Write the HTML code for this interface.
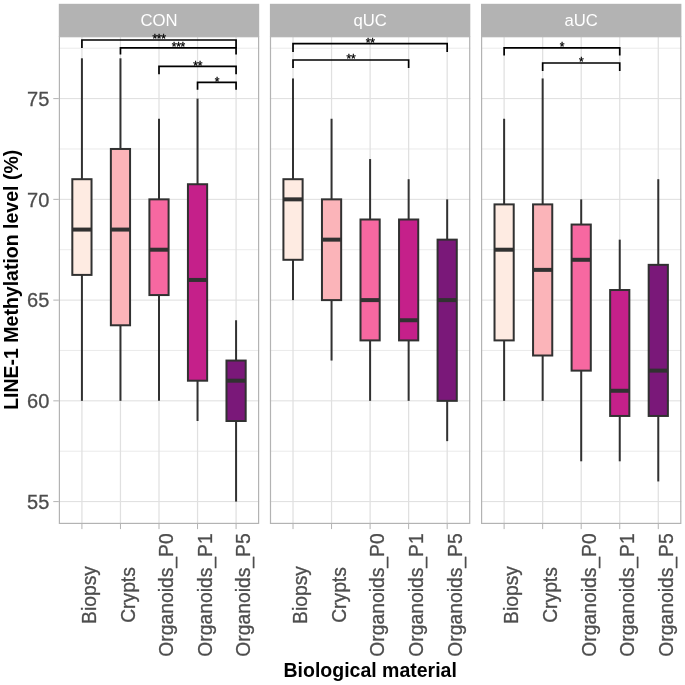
<!DOCTYPE html>
<html><head><meta charset="utf-8"><style>
html,body{margin:0;padding:0;background:#fff;}
svg{display:block;will-change:transform;filter:blur(0.35px);font-family:"Liberation Sans",sans-serif;}
</style></head><body>
<svg width="685" height="685" viewBox="0 0 685 685">
<rect width="685" height="685" fill="#fff"/>
<rect x="58.8" y="3.8" width="200.4" height="32.9" fill="#B3B3B3"/>
<text x="159" y="26.1" font-size="16.7" fill="#FFFFFF" text-anchor="middle">CON</text>
<line x1="58.8" x2="259.2" y1="451.23" y2="451.23" stroke="#E8E8E8" stroke-width="0.9"/>
<line x1="58.8" x2="259.2" y1="350.47" y2="350.47" stroke="#E8E8E8" stroke-width="0.9"/>
<line x1="58.8" x2="259.2" y1="249.72" y2="249.72" stroke="#E8E8E8" stroke-width="0.9"/>
<line x1="58.8" x2="259.2" y1="148.97" y2="148.97" stroke="#E8E8E8" stroke-width="0.9"/>
<line x1="58.8" x2="259.2" y1="48.22" y2="48.22" stroke="#E8E8E8" stroke-width="0.9"/>
<line x1="58.8" x2="259.2" y1="501.6" y2="501.6" stroke="#DEDEDE" stroke-width="1"/>
<line x1="58.8" x2="259.2" y1="400.85" y2="400.85" stroke="#DEDEDE" stroke-width="1"/>
<line x1="58.8" x2="259.2" y1="300.1" y2="300.1" stroke="#DEDEDE" stroke-width="1"/>
<line x1="58.8" x2="259.2" y1="199.35" y2="199.35" stroke="#DEDEDE" stroke-width="1"/>
<line x1="58.8" x2="259.2" y1="98.6" y2="98.6" stroke="#DEDEDE" stroke-width="1"/>
<line x1="81.92" x2="81.92" y1="36.7" y2="524" stroke="#E0E0E0" stroke-width="1.25"/>
<line x1="120.46" x2="120.46" y1="36.7" y2="524" stroke="#E0E0E0" stroke-width="1.25"/>
<line x1="159" x2="159" y1="36.7" y2="524" stroke="#E0E0E0" stroke-width="1.25"/>
<line x1="197.54" x2="197.54" y1="36.7" y2="524" stroke="#E0E0E0" stroke-width="1.25"/>
<line x1="236.08" x2="236.08" y1="36.7" y2="524" stroke="#E0E0E0" stroke-width="1.25"/>
<line x1="81.92" x2="81.92" y1="58.3" y2="179.2" stroke="#313131" stroke-width="2"/>
<line x1="81.92" x2="81.92" y1="274.91" y2="400.85" stroke="#313131" stroke-width="2"/>
<rect x="72.32" y="179.2" width="19.2" height="95.71" fill="#FEEBE2" stroke="#313131" stroke-width="2"/>
<line x1="72.32" x2="91.52" y1="229.57" y2="229.57" stroke="#313131" stroke-width="4"/>
<line x1="120.46" x2="120.46" y1="58.3" y2="148.97" stroke="#313131" stroke-width="2"/>
<line x1="120.46" x2="120.46" y1="325.29" y2="400.85" stroke="#313131" stroke-width="2"/>
<rect x="110.86" y="148.97" width="19.2" height="176.31" fill="#FBB4B9" stroke="#313131" stroke-width="2"/>
<line x1="110.86" x2="130.06" y1="229.57" y2="229.57" stroke="#313131" stroke-width="4"/>
<line x1="159" x2="159" y1="118.75" y2="199.35" stroke="#313131" stroke-width="2"/>
<line x1="159" x2="159" y1="295.06" y2="400.85" stroke="#313131" stroke-width="2"/>
<rect x="149.4" y="199.35" width="19.2" height="95.71" fill="#F768A1" stroke="#313131" stroke-width="2"/>
<line x1="149.4" x2="168.6" y1="249.72" y2="249.72" stroke="#313131" stroke-width="4"/>
<line x1="197.54" x2="197.54" y1="98.6" y2="184.24" stroke="#313131" stroke-width="2"/>
<line x1="197.54" x2="197.54" y1="380.7" y2="421" stroke="#313131" stroke-width="2"/>
<rect x="187.94" y="184.24" width="19.2" height="196.46" fill="#C5208A" stroke="#313131" stroke-width="2"/>
<line x1="187.94" x2="207.14" y1="279.95" y2="279.95" stroke="#313131" stroke-width="4"/>
<line x1="236.08" x2="236.08" y1="320.25" y2="360.55" stroke="#313131" stroke-width="2"/>
<line x1="236.08" x2="236.08" y1="421" y2="501.6" stroke="#313131" stroke-width="2"/>
<rect x="226.48" y="360.55" width="19.2" height="60.45" fill="#7A1879" stroke="#313131" stroke-width="2"/>
<line x1="226.48" x2="245.68" y1="380.7" y2="380.7" stroke="#313131" stroke-width="4"/>
<rect x="59.4" y="36.7" width="199.2" height="486.7" fill="none" stroke="#B3B3B3" stroke-width="1.2"/>
<line x1="81.92" x2="81.92" y1="524" y2="529.1" stroke="#B3B3B3" stroke-width="1"/>
<text transform="translate(96.27,595.0) rotate(-90) scale(0.965,1)" font-size="20" fill="#4D4D4D" stroke="#4D4D4D" stroke-width="0.3" text-anchor="middle">Biopsy</text>
<line x1="120.46" x2="120.46" y1="524" y2="529.1" stroke="#B3B3B3" stroke-width="1"/>
<text transform="translate(134.81,595.0) rotate(-90) scale(0.965,1)" font-size="20" fill="#4D4D4D" stroke="#4D4D4D" stroke-width="0.3" text-anchor="middle">Crypts</text>
<line x1="159" x2="159" y1="524" y2="529.1" stroke="#B3B3B3" stroke-width="1"/>
<text transform="translate(173.35,595.0) rotate(-90) scale(0.965,1)" font-size="20" fill="#4D4D4D" stroke="#4D4D4D" stroke-width="0.3" text-anchor="middle">Organoids_P0</text>
<line x1="197.54" x2="197.54" y1="524" y2="529.1" stroke="#B3B3B3" stroke-width="1"/>
<text transform="translate(211.89,595.0) rotate(-90) scale(0.965,1)" font-size="20" fill="#4D4D4D" stroke="#4D4D4D" stroke-width="0.3" text-anchor="middle">Organoids_P1</text>
<line x1="236.08" x2="236.08" y1="524" y2="529.1" stroke="#B3B3B3" stroke-width="1"/>
<text transform="translate(250.43,595.0) rotate(-90) scale(0.965,1)" font-size="20" fill="#4D4D4D" stroke="#4D4D4D" stroke-width="0.3" text-anchor="middle">Organoids_P5</text>
<rect x="269.9" y="3.8" width="200.4" height="32.9" fill="#B3B3B3"/>
<text x="370.1" y="26.1" font-size="16.7" fill="#FFFFFF" text-anchor="middle">qUC</text>
<line x1="269.9" x2="470.3" y1="451.23" y2="451.23" stroke="#E8E8E8" stroke-width="0.9"/>
<line x1="269.9" x2="470.3" y1="350.47" y2="350.47" stroke="#E8E8E8" stroke-width="0.9"/>
<line x1="269.9" x2="470.3" y1="249.72" y2="249.72" stroke="#E8E8E8" stroke-width="0.9"/>
<line x1="269.9" x2="470.3" y1="148.97" y2="148.97" stroke="#E8E8E8" stroke-width="0.9"/>
<line x1="269.9" x2="470.3" y1="48.22" y2="48.22" stroke="#E8E8E8" stroke-width="0.9"/>
<line x1="269.9" x2="470.3" y1="501.6" y2="501.6" stroke="#DEDEDE" stroke-width="1"/>
<line x1="269.9" x2="470.3" y1="400.85" y2="400.85" stroke="#DEDEDE" stroke-width="1"/>
<line x1="269.9" x2="470.3" y1="300.1" y2="300.1" stroke="#DEDEDE" stroke-width="1"/>
<line x1="269.9" x2="470.3" y1="199.35" y2="199.35" stroke="#DEDEDE" stroke-width="1"/>
<line x1="269.9" x2="470.3" y1="98.6" y2="98.6" stroke="#DEDEDE" stroke-width="1"/>
<line x1="293.02" x2="293.02" y1="36.7" y2="524" stroke="#E0E0E0" stroke-width="1.25"/>
<line x1="331.56" x2="331.56" y1="36.7" y2="524" stroke="#E0E0E0" stroke-width="1.25"/>
<line x1="370.1" x2="370.1" y1="36.7" y2="524" stroke="#E0E0E0" stroke-width="1.25"/>
<line x1="408.64" x2="408.64" y1="36.7" y2="524" stroke="#E0E0E0" stroke-width="1.25"/>
<line x1="447.18" x2="447.18" y1="36.7" y2="524" stroke="#E0E0E0" stroke-width="1.25"/>
<line x1="293.02" x2="293.02" y1="78.45" y2="179.2" stroke="#313131" stroke-width="2"/>
<line x1="293.02" x2="293.02" y1="259.8" y2="300.1" stroke="#313131" stroke-width="2"/>
<rect x="283.42" y="179.2" width="19.2" height="80.6" fill="#FEEBE2" stroke="#313131" stroke-width="2"/>
<line x1="283.42" x2="302.62" y1="199.35" y2="199.35" stroke="#313131" stroke-width="4"/>
<line x1="331.56" x2="331.56" y1="118.75" y2="199.35" stroke="#313131" stroke-width="2"/>
<line x1="331.56" x2="331.56" y1="300.1" y2="360.55" stroke="#313131" stroke-width="2"/>
<rect x="321.96" y="199.35" width="19.2" height="100.75" fill="#FBB4B9" stroke="#313131" stroke-width="2"/>
<line x1="321.96" x2="341.16" y1="239.65" y2="239.65" stroke="#313131" stroke-width="4"/>
<line x1="370.1" x2="370.1" y1="159.05" y2="219.5" stroke="#313131" stroke-width="2"/>
<line x1="370.1" x2="370.1" y1="340.4" y2="400.85" stroke="#313131" stroke-width="2"/>
<rect x="360.5" y="219.5" width="19.2" height="120.9" fill="#F768A1" stroke="#313131" stroke-width="2"/>
<line x1="360.5" x2="379.7" y1="300.1" y2="300.1" stroke="#313131" stroke-width="4"/>
<line x1="408.64" x2="408.64" y1="179.2" y2="219.5" stroke="#313131" stroke-width="2"/>
<line x1="408.64" x2="408.64" y1="340.4" y2="400.85" stroke="#313131" stroke-width="2"/>
<rect x="399.04" y="219.5" width="19.2" height="120.9" fill="#C5208A" stroke="#313131" stroke-width="2"/>
<line x1="399.04" x2="418.24" y1="320.25" y2="320.25" stroke="#313131" stroke-width="4"/>
<line x1="447.18" x2="447.18" y1="199.35" y2="239.65" stroke="#313131" stroke-width="2"/>
<line x1="447.18" x2="447.18" y1="400.85" y2="441.15" stroke="#313131" stroke-width="2"/>
<rect x="437.58" y="239.65" width="19.2" height="161.2" fill="#7A1879" stroke="#313131" stroke-width="2"/>
<line x1="437.58" x2="456.78" y1="300.1" y2="300.1" stroke="#313131" stroke-width="4"/>
<rect x="270.5" y="36.7" width="199.2" height="486.7" fill="none" stroke="#B3B3B3" stroke-width="1.2"/>
<line x1="293.02" x2="293.02" y1="524" y2="529.1" stroke="#B3B3B3" stroke-width="1"/>
<text transform="translate(307.37,595.0) rotate(-90) scale(0.965,1)" font-size="20" fill="#4D4D4D" stroke="#4D4D4D" stroke-width="0.3" text-anchor="middle">Biopsy</text>
<line x1="331.56" x2="331.56" y1="524" y2="529.1" stroke="#B3B3B3" stroke-width="1"/>
<text transform="translate(345.91,595.0) rotate(-90) scale(0.965,1)" font-size="20" fill="#4D4D4D" stroke="#4D4D4D" stroke-width="0.3" text-anchor="middle">Crypts</text>
<line x1="370.1" x2="370.1" y1="524" y2="529.1" stroke="#B3B3B3" stroke-width="1"/>
<text transform="translate(384.45,595.0) rotate(-90) scale(0.965,1)" font-size="20" fill="#4D4D4D" stroke="#4D4D4D" stroke-width="0.3" text-anchor="middle">Organoids_P0</text>
<line x1="408.64" x2="408.64" y1="524" y2="529.1" stroke="#B3B3B3" stroke-width="1"/>
<text transform="translate(422.99,595.0) rotate(-90) scale(0.965,1)" font-size="20" fill="#4D4D4D" stroke="#4D4D4D" stroke-width="0.3" text-anchor="middle">Organoids_P1</text>
<line x1="447.18" x2="447.18" y1="524" y2="529.1" stroke="#B3B3B3" stroke-width="1"/>
<text transform="translate(461.53,595.0) rotate(-90) scale(0.965,1)" font-size="20" fill="#4D4D4D" stroke="#4D4D4D" stroke-width="0.3" text-anchor="middle">Organoids_P5</text>
<rect x="481" y="3.8" width="200.4" height="32.9" fill="#B3B3B3"/>
<text x="581.2" y="26.1" font-size="16.7" fill="#FFFFFF" text-anchor="middle">aUC</text>
<line x1="481" x2="681.4" y1="451.23" y2="451.23" stroke="#E8E8E8" stroke-width="0.9"/>
<line x1="481" x2="681.4" y1="350.47" y2="350.47" stroke="#E8E8E8" stroke-width="0.9"/>
<line x1="481" x2="681.4" y1="249.72" y2="249.72" stroke="#E8E8E8" stroke-width="0.9"/>
<line x1="481" x2="681.4" y1="148.97" y2="148.97" stroke="#E8E8E8" stroke-width="0.9"/>
<line x1="481" x2="681.4" y1="48.22" y2="48.22" stroke="#E8E8E8" stroke-width="0.9"/>
<line x1="481" x2="681.4" y1="501.6" y2="501.6" stroke="#DEDEDE" stroke-width="1"/>
<line x1="481" x2="681.4" y1="400.85" y2="400.85" stroke="#DEDEDE" stroke-width="1"/>
<line x1="481" x2="681.4" y1="300.1" y2="300.1" stroke="#DEDEDE" stroke-width="1"/>
<line x1="481" x2="681.4" y1="199.35" y2="199.35" stroke="#DEDEDE" stroke-width="1"/>
<line x1="481" x2="681.4" y1="98.6" y2="98.6" stroke="#DEDEDE" stroke-width="1"/>
<line x1="504.12" x2="504.12" y1="36.7" y2="524" stroke="#E0E0E0" stroke-width="1.25"/>
<line x1="542.66" x2="542.66" y1="36.7" y2="524" stroke="#E0E0E0" stroke-width="1.25"/>
<line x1="581.2" x2="581.2" y1="36.7" y2="524" stroke="#E0E0E0" stroke-width="1.25"/>
<line x1="619.74" x2="619.74" y1="36.7" y2="524" stroke="#E0E0E0" stroke-width="1.25"/>
<line x1="658.28" x2="658.28" y1="36.7" y2="524" stroke="#E0E0E0" stroke-width="1.25"/>
<line x1="504.12" x2="504.12" y1="118.75" y2="204.39" stroke="#313131" stroke-width="2"/>
<line x1="504.12" x2="504.12" y1="340.4" y2="400.85" stroke="#313131" stroke-width="2"/>
<rect x="494.52" y="204.39" width="19.2" height="136.01" fill="#FEEBE2" stroke="#313131" stroke-width="2"/>
<line x1="494.52" x2="513.72" y1="249.72" y2="249.72" stroke="#313131" stroke-width="4"/>
<line x1="542.66" x2="542.66" y1="78.45" y2="204.39" stroke="#313131" stroke-width="2"/>
<line x1="542.66" x2="542.66" y1="355.51" y2="400.85" stroke="#313131" stroke-width="2"/>
<rect x="533.06" y="204.39" width="19.2" height="151.12" fill="#FBB4B9" stroke="#313131" stroke-width="2"/>
<line x1="533.06" x2="552.26" y1="269.88" y2="269.88" stroke="#313131" stroke-width="4"/>
<line x1="581.2" x2="581.2" y1="199.35" y2="224.54" stroke="#313131" stroke-width="2"/>
<line x1="581.2" x2="581.2" y1="370.62" y2="461.3" stroke="#313131" stroke-width="2"/>
<rect x="571.6" y="224.54" width="19.2" height="146.09" fill="#F768A1" stroke="#313131" stroke-width="2"/>
<line x1="571.6" x2="590.8" y1="259.8" y2="259.8" stroke="#313131" stroke-width="4"/>
<line x1="619.74" x2="619.74" y1="239.65" y2="290.02" stroke="#313131" stroke-width="2"/>
<line x1="619.74" x2="619.74" y1="415.96" y2="461.3" stroke="#313131" stroke-width="2"/>
<rect x="610.14" y="290.02" width="19.2" height="125.94" fill="#C5208A" stroke="#313131" stroke-width="2"/>
<line x1="610.14" x2="629.34" y1="390.77" y2="390.77" stroke="#313131" stroke-width="4"/>
<line x1="658.28" x2="658.28" y1="179.2" y2="264.84" stroke="#313131" stroke-width="2"/>
<line x1="658.28" x2="658.28" y1="415.96" y2="481.45" stroke="#313131" stroke-width="2"/>
<rect x="648.68" y="264.84" width="19.2" height="151.12" fill="#7A1879" stroke="#313131" stroke-width="2"/>
<line x1="648.68" x2="667.88" y1="370.62" y2="370.62" stroke="#313131" stroke-width="4"/>
<rect x="481.6" y="36.7" width="199.2" height="486.7" fill="none" stroke="#B3B3B3" stroke-width="1.2"/>
<line x1="504.12" x2="504.12" y1="524" y2="529.1" stroke="#B3B3B3" stroke-width="1"/>
<text transform="translate(518.47,595.0) rotate(-90) scale(0.965,1)" font-size="20" fill="#4D4D4D" stroke="#4D4D4D" stroke-width="0.3" text-anchor="middle">Biopsy</text>
<line x1="542.66" x2="542.66" y1="524" y2="529.1" stroke="#B3B3B3" stroke-width="1"/>
<text transform="translate(557.01,595.0) rotate(-90) scale(0.965,1)" font-size="20" fill="#4D4D4D" stroke="#4D4D4D" stroke-width="0.3" text-anchor="middle">Crypts</text>
<line x1="581.2" x2="581.2" y1="524" y2="529.1" stroke="#B3B3B3" stroke-width="1"/>
<text transform="translate(595.55,595.0) rotate(-90) scale(0.965,1)" font-size="20" fill="#4D4D4D" stroke="#4D4D4D" stroke-width="0.3" text-anchor="middle">Organoids_P0</text>
<line x1="619.74" x2="619.74" y1="524" y2="529.1" stroke="#B3B3B3" stroke-width="1"/>
<text transform="translate(634.09,595.0) rotate(-90) scale(0.965,1)" font-size="20" fill="#4D4D4D" stroke="#4D4D4D" stroke-width="0.3" text-anchor="middle">Organoids_P1</text>
<line x1="658.28" x2="658.28" y1="524" y2="529.1" stroke="#B3B3B3" stroke-width="1"/>
<text transform="translate(672.63,595.0) rotate(-90) scale(0.965,1)" font-size="20" fill="#4D4D4D" stroke="#4D4D4D" stroke-width="0.3" text-anchor="middle">Organoids_P5</text>
<path d="M81.92 48V40H236.08V48" fill="none" stroke="#000" stroke-width="1.7" stroke-linejoin="miter" stroke-linecap="butt"/>
<text x="159.1" y="43.3" font-size="12" fill="#000" stroke="#000" stroke-width="0.3" letter-spacing="-0.2" text-anchor="middle">***</text>
<path d="M120.46 54.6V47.9H236.08V54.6" fill="none" stroke="#000" stroke-width="1.7" stroke-linejoin="miter" stroke-linecap="butt"/>
<text x="178.37" y="51.2" font-size="12" fill="#000" stroke="#000" stroke-width="0.3" letter-spacing="-0.2" text-anchor="middle">***</text>
<path d="M159 74.2V66.4H236.08V74.2" fill="none" stroke="#000" stroke-width="1.7" stroke-linejoin="miter" stroke-linecap="butt"/>
<text x="197.64" y="69.7" font-size="12" fill="#000" stroke="#000" stroke-width="0.3" letter-spacing="-0.2" text-anchor="middle">**</text>
<path d="M197.54 89.8V82.3H236.08V89.8" fill="none" stroke="#000" stroke-width="1.7" stroke-linejoin="miter" stroke-linecap="butt"/>
<text x="216.91" y="85.6" font-size="12" fill="#000" stroke="#000" stroke-width="0.3" letter-spacing="-0.2" text-anchor="middle">*</text>
<path d="M293.02 52.1V43.7H447.18V52.1" fill="none" stroke="#000" stroke-width="1.7" stroke-linejoin="miter" stroke-linecap="butt"/>
<text x="370.2" y="47" font-size="12" fill="#000" stroke="#000" stroke-width="0.3" letter-spacing="-0.2" text-anchor="middle">**</text>
<path d="M293.02 68.1V60H408.64V68.1" fill="none" stroke="#000" stroke-width="1.7" stroke-linejoin="miter" stroke-linecap="butt"/>
<text x="350.93" y="63.3" font-size="12" fill="#000" stroke="#000" stroke-width="0.3" letter-spacing="-0.2" text-anchor="middle">**</text>
<path d="M504.12 55.4V47.8H619.74V55.4" fill="none" stroke="#000" stroke-width="1.7" stroke-linejoin="miter" stroke-linecap="butt"/>
<text x="562.03" y="51.1" font-size="12" fill="#000" stroke="#000" stroke-width="0.3" letter-spacing="-0.2" text-anchor="middle">*</text>
<path d="M542.66 70.9V63H619.74V70.9" fill="none" stroke="#000" stroke-width="1.7" stroke-linejoin="miter" stroke-linecap="butt"/>
<text x="581.3" y="66.3" font-size="12" fill="#000" stroke="#000" stroke-width="0.3" letter-spacing="-0.2" text-anchor="middle">*</text>
<line x1="53.3" x2="58.8" y1="501.6" y2="501.6" stroke="#B3B3B3" stroke-width="1"/>
<text x="49.3" y="508.9" font-size="20" fill="#4D4D4D" stroke="#4D4D4D" stroke-width="0.3" text-anchor="end">55</text>
<line x1="53.3" x2="58.8" y1="400.85" y2="400.85" stroke="#B3B3B3" stroke-width="1"/>
<text x="49.3" y="408.15" font-size="20" fill="#4D4D4D" stroke="#4D4D4D" stroke-width="0.3" text-anchor="end">60</text>
<line x1="53.3" x2="58.8" y1="300.1" y2="300.1" stroke="#B3B3B3" stroke-width="1"/>
<text x="49.3" y="307.4" font-size="20" fill="#4D4D4D" stroke="#4D4D4D" stroke-width="0.3" text-anchor="end">65</text>
<line x1="53.3" x2="58.8" y1="199.35" y2="199.35" stroke="#B3B3B3" stroke-width="1"/>
<text x="49.3" y="206.65" font-size="20" fill="#4D4D4D" stroke="#4D4D4D" stroke-width="0.3" text-anchor="end">70</text>
<line x1="53.3" x2="58.8" y1="98.6" y2="98.6" stroke="#B3B3B3" stroke-width="1"/>
<text x="49.3" y="105.9" font-size="20" fill="#4D4D4D" stroke="#4D4D4D" stroke-width="0.3" text-anchor="end">75</text>
<text transform="translate(18.1,279.8) rotate(-90)" font-size="19.5" font-weight="bold" fill="#000" text-anchor="middle">LINE-1 Methylation level (%)</text>
<text x="370.2" y="676.6" font-size="19.5" font-weight="bold" fill="#000" text-anchor="middle">Biological material</text>
</svg>
</body></html>
